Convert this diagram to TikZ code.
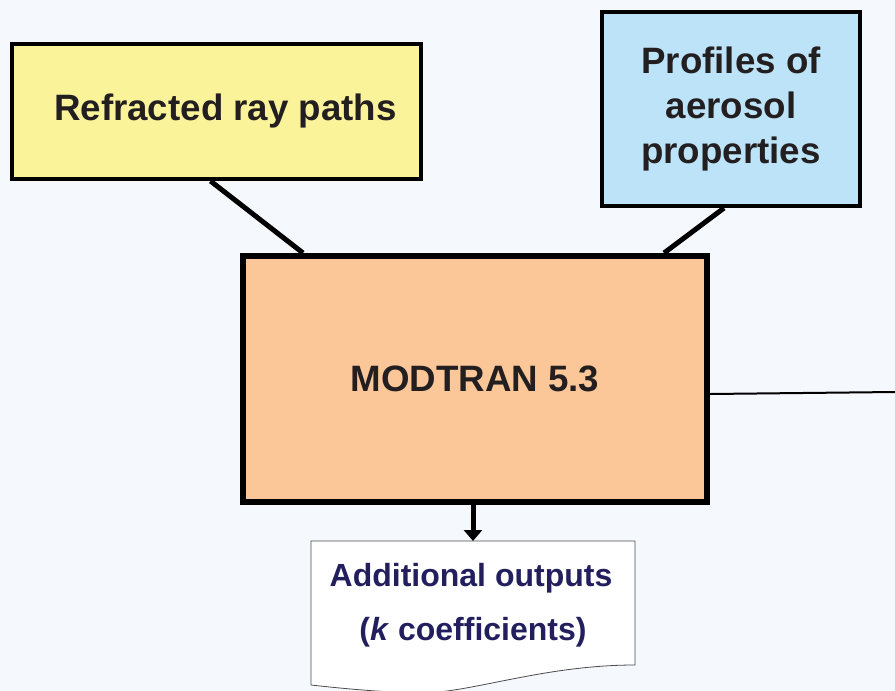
\documentclass[tikz,border=0pt]{standalone}
\usepackage{fontspec}
\setmainfont{Liberation Sans}
\usepackage{xcolor}
\usepackage{tikz}
\usetikzlibrary{arrows.meta,backgrounds}
\definecolor{pagebg}{RGB}{245,248,252}
\definecolor{rayfill}{RGB}{250,243,154}
\definecolor{aerofill}{RGB}{188,227,247}
\definecolor{modfill}{RGB}{251,198,152}
\definecolor{inktext}{RGB}{35,31,32}
\definecolor{navytext}{RGB}{35,31,95}

\begin{document}
\begin{tikzpicture}[x=1pt,y=-1pt,line width=4pt,
    font=\bfseries\fontsize{36.7}{45}\selectfont,text=inktext]
\tikzstyle{every box}=[draw=black,inner sep=0pt,align=center]
\tikzstyle{link}=[draw=black,line width=5pt]

\useasboundingbox (0,0) rectangle (895,691);

\node[every box,fill=rayfill,minimum width=409pt,minimum height=135pt]
    (ray) at (216.5,111.5) {\hspace{18pt}Refracted ray paths};
\node[every box,fill=aerofill,minimum width=258pt,minimum height=194pt]
    (aero) at (731,109) {Profiles of\\aerosol\\properties};
\node[every box,fill=modfill,line width=6pt,minimum width=464pt,minimum height=246pt]
    (mod) at (475,379) {MODTRAN 5.3};
\node[inner sep=0pt,align=center,text=navytext,minimum width=320pt,minimum height=124pt,
    font=\bfseries\fontsize{32}{54}\selectfont]
    (out) at (473,605) {\hspace{-4pt}Additional outputs\\(\textit{k} coefficients)\hspace{28pt}};
\coordinate (edge) at (895,392);

\begin{scope}[on background layer]
\fill[pagebg] (0,0) rectangle (895,691);
% wavy bottom of the output sheet
\draw[line width=0.8pt,draw=black!70,fill=white]
    (out.north west) -- (out.north east) -- ([yshift=4pt]out.south east)
    .. controls ([xshift=-93pt,yshift=4pt]out.south east) and ([xshift=157pt,yshift=-25pt]out.south west)
    .. ([xshift=107pt,yshift=-24pt]out.south west)
    .. controls ([xshift=67pt,yshift=-23pt]out.south west) and ([xshift=27pt,yshift=-19pt]out.south west)
    .. ([yshift=-16pt]out.south west) -- cycle;
\end{scope}

\path ([xshift=-6pt]ray.south) edge[link] ([xshift=-172pt]mod.north)
      ([xshift=-7pt]aero.south) edge[link] ([xshift=189pt]mod.north)
      ([yshift=-15pt]mod.east) edge[line width=2pt] (edge)
      ([xshift=-2pt]mod.south) edge[line width=5pt,-{Triangle[width=18pt,length=11pt]}] (out.north)
;
\end{tikzpicture}
\end{document}
